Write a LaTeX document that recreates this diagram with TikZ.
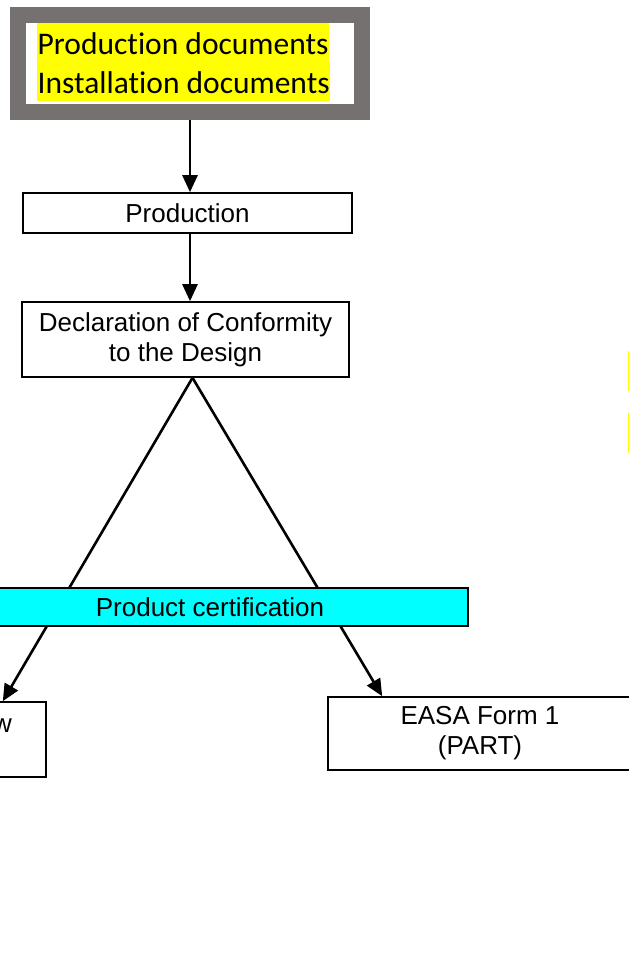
\documentclass[tikz,border=0pt]{standalone}
\usepackage{fontspec}
\setmainfont{Liberation Sans}
\newfontfamily\calibri[Ligatures=NoCommon]{Carlito}
\usetikzlibrary{calc}
\usetikzlibrary{arrows.meta}

\definecolor{moldura}{RGB}{118,113,113}
\definecolor{amarelo}{RGB}{255,255,0}
\definecolor{ciano}{RGB}{0,255,255}

\tikzset{
  texto/.style={font=\fontsize{26}{30}\selectfont},
  caixa/.style={texto, draw, line width=1.6pt, fill=white, align=center, inner sep=0pt},
  seta/.style={line width=2.6pt, -{Triangle[length=17pt, width=15pt]}},
  marca/.style={fill=amarelo, inner xsep=.5pt, inner ysep=0pt, text height=31pt,
    text depth=8pt, font=\calibri\fontsize{31.5}{38}\selectfont},
}

\begin{document}
\begin{tikzpicture}[x=1pt, y=-1pt]

  %--------------------------------------------
  % Area total da figura
  %--------------------------------------------
  \useasboundingbox[fill=white] (0,0) rectangle (629,980);

  %--------------------------------------------
  % Caixa dos documentos (moldura cinza)
  %--------------------------------------------
  \node[draw=moldura, line width=16pt, minimum width=344pt, minimum height=97pt,
    inner sep=0pt] (docs) at (190,63.5) {};

  % Linhas com marca-texto amarelo
  \node[marca, anchor=base west] (docprod) at (37,54) {Production documents};
  \node[marca, anchor=base west] (docinst) at (37,93) {Installation documents};

  %--------------------------------------------
  % Producao e declaracao
  %--------------------------------------------
  \node[caixa, minimum width=329pt, minimum height=40pt] (prod) at (187.5,213) {Production};
  \node[caixa, minimum width=327pt, minimum height=75pt] (decl) at (185.5,339.5)
    {Declaration of Conformity\\to the Design};

  \draw[seta] (docs.south) -- (docs.south |- prod.north);
  \draw[seta] (docs.south |- prod.south) -- (docs.south |- decl.north);

  %--------------------------------------------
  % Caixas de saida (cortadas nas bordas)
  %--------------------------------------------
  \node[caixa, minimum width=304pt, minimum height=75pt] (esq) at (-106,739.5) {};
  \node[texto, anchor=base] (esqw) at (2.5,732) {w};
  \node[caixa, minimum width=304pt, minimum height=73pt] (form) at (480,733.5)
    {EASA Form 1\\(PART)};

  % Vertice de onde saem as duas setas
  \coordinate (topo) at ([xshift=7pt]decl.south);
  \draw[seta] (topo) -- ([xshift=-44pt]esq.north east);
  \draw[seta] (topo) -- ([xshift=55pt]form.north west);

  %--------------------------------------------
  % Faixa de certificacao (por cima das setas)
  %--------------------------------------------
  \node[caixa, fill=ciano, minimum width=516pt, minimum height=38pt] (cert) at (210,607)
    {Product certification};

  % Restos de marca-texto na borda direita
  \fill[amarelo] (628,351) rectangle (660,391);
  \fill[amarelo] (628,413) rectangle (660,453);

\end{tikzpicture}
\end{document}
